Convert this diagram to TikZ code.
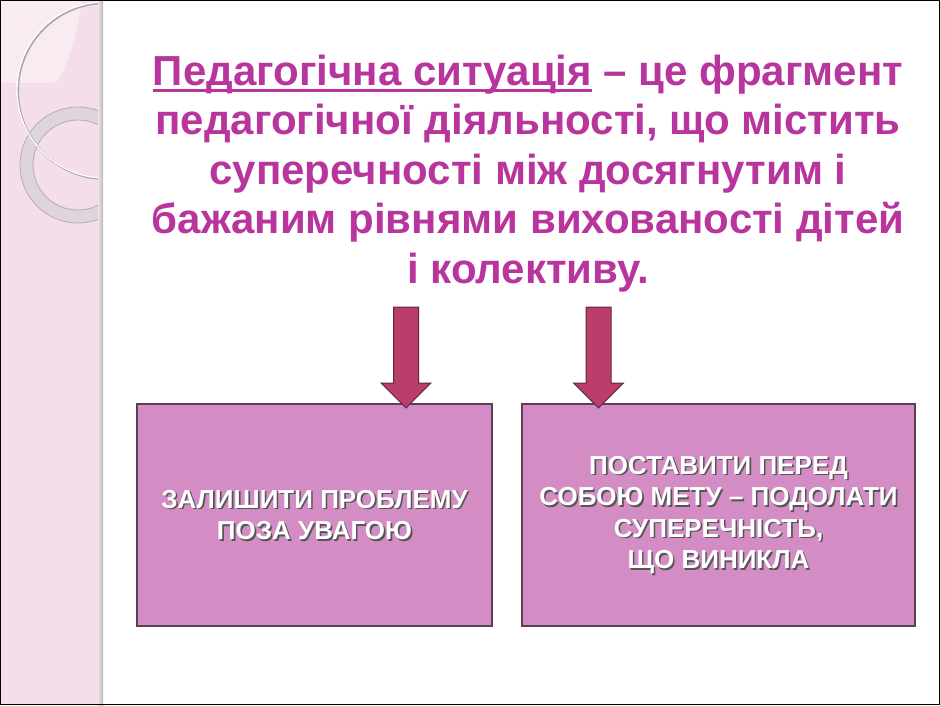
\documentclass[tikz,border=0pt]{standalone}
\usepackage{fontspec}
\setmainfont{Liberation Sans}
\definecolor{band}{HTML}{F3DEE9}
\definecolor{bandlight}{HTML}{F8EBF2}
\definecolor{ringgray}{HTML}{DDD5DB}
\definecolor{ringedge}{HTML}{B9AAB4}
\definecolor{titlecol}{HTML}{B8359E}
\definecolor{boxfill}{HTML}{D38CC4}
\definecolor{boxline}{HTML}{5B3F55}
\definecolor{arrowfill}{HTML}{BA3D6B}
\definecolor{arrowline}{HTML}{5A2A3C}
\definecolor{shadowcol}{HTML}{555555}
\newcommand\myul[1]{\setbox0\hbox{#1}\rlap{\rule[-6.5pt]{\wd0}{3pt}}\box0}
\tikzset{
  boxstyle/.style={draw=boxline, line width=1.2pt, fill=boxfill, inner sep=0pt},
  boxtext/.style={text=white, font=\bfseries\fontsize{26}{31.5}\selectfont, align=center, inner sep=0pt},
  boxshadow/.style={boxtext, text=shadowcol},
  blockarrow/.style={draw=arrowline, line width=1pt, fill=arrowfill, line join=miter},
}
\begin{document}
\begin{tikzpicture}[x=1pt,y=-1pt]
\useasboundingbox (0,0) rectangle (940,705);
\fill[white] (0,0) rectangle (940,705);
% left decorative band
\fill[band] (0,0) rectangle (103,705);
\fill[bandlight] (0,0) -- (82,0) .. controls (76,40) and (66,72) .. (55,83) -- (0,83) -- cycle;
\begin{scope}
  \clip (0,0) rectangle (101,705);
  \draw[ringgray, line width=13pt] (78,165) circle (51.5);
  \draw[ringedge, line width=0.8pt] (78,165) circle (58);
  \draw[ringedge, line width=0.8pt] (78,165) circle (45);
  \draw[gray!70, line width=2pt] (106,91) circle (88);
  \draw[white, line width=1.3pt] (105,90) circle (88);
\end{scope}
\shade[left color=band, right color=gray!55] (98,0) rectangle (103,705);
% title
\node[text=titlecol, font=\bfseries\fontsize{42}{49.5}\selectfont, align=center, inner sep=0pt]
  (title) at (528,173.5) {\myul{Педагогічна ситуація}~– це фрагмент\\
  педагогічної діяльності, що містить\\
  суперечності між досягнутим і\\
  бажаним рівнями вихованості дітей\\
  і колективу.};
% boxes
\node[boxstyle, minimum width=355pt, minimum height=222pt] (L) at (314.5,515) {};
\node[boxstyle, minimum width=393pt, minimum height=222pt] (R) at (718.5,515) {};
\node[boxshadow] (Lsh) at ([shift={(1.6,1.6)}]L.center) {ЗАЛИШИТИ ПРОБЛЕМУ\\ПОЗА УВАГОЮ};
\node[boxtext] (Lt) at (L.center) {ЗАЛИШИТИ ПРОБЛЕМУ\\ПОЗА УВАГОЮ};
\node[boxshadow] (Rsh) at ([shift={(1.6,1.6)}]R.center) {ПОСТАВИТИ ПЕРЕД\\СОБОЮ МЕТУ – ПОДОЛАТИ\\СУПЕРЕЧНІСТЬ,\\ЩО ВИНИКЛА};
\node[boxtext] (Rt) at (R.center) {ПОСТАВИТИ ПЕРЕД\\СОБОЮ МЕТУ – ПОДОЛАТИ\\СУПЕРЕЧНІСТЬ,\\ЩО ВИНИКЛА};
% block arrows
\coordinate (la) at (406,408);
\coordinate (ra) at (598.5,408);
\draw[blockarrow] (la) -- ++(-25,-25) -- ++(12.5,0) -- ++(0,-76) -- ++(25,0) -- ++(0,76) -- ++(12.5,0) -- cycle;
\draw[blockarrow] (ra) -- ++(-25,-25) -- ++(12.5,0) -- ++(0,-76) -- ++(25,0) -- ++(0,76) -- ++(12.5,0) -- cycle;
% frame
\draw[black, line width=1pt] (0.5,0.5) rectangle (939.5,704.5);
\end{tikzpicture}
\end{document}
